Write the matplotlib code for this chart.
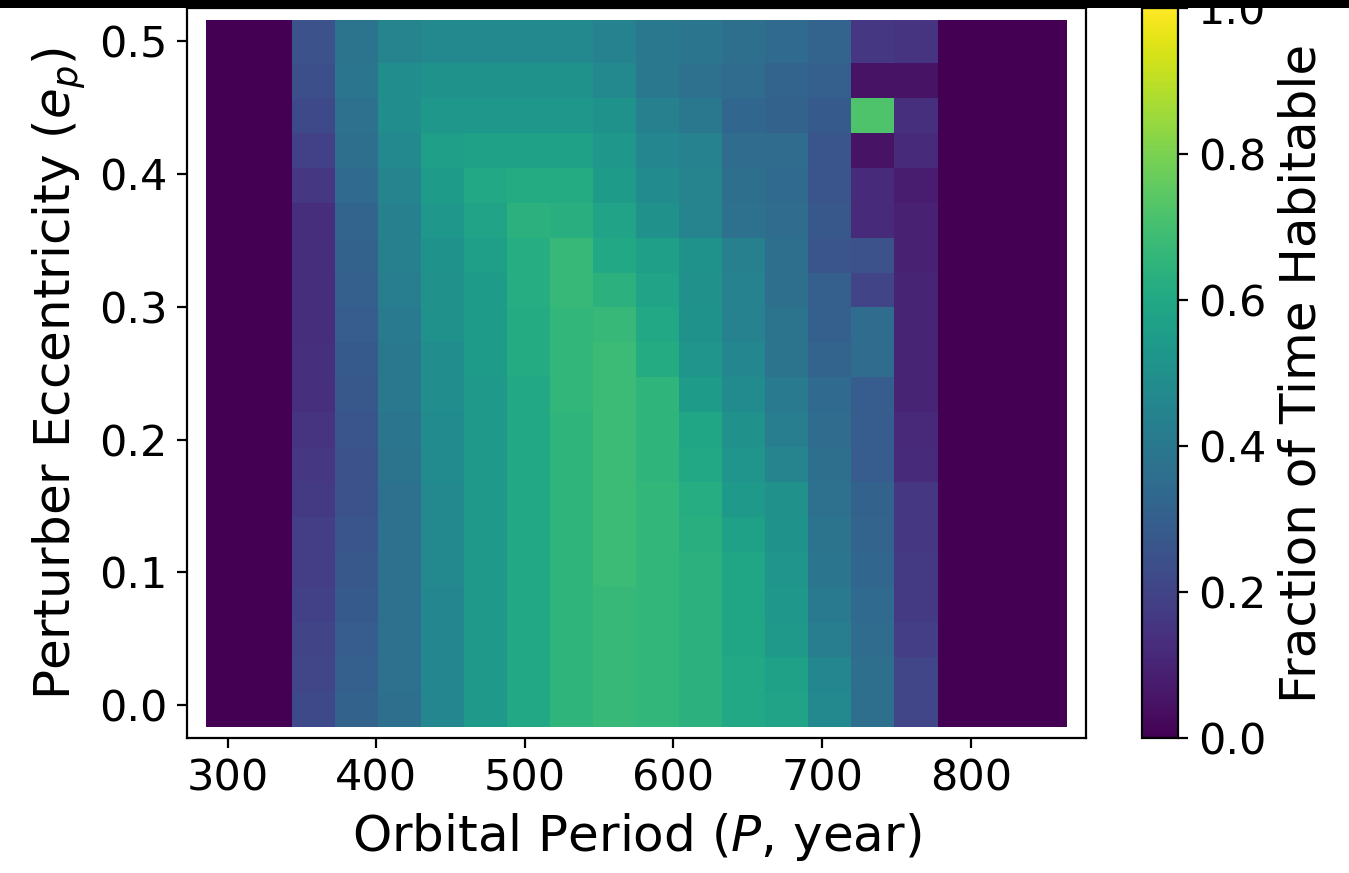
"""Habitability map: fraction of time habitable vs perturber period and eccentricity."""

import matplotlib
matplotlib.use("Agg")
import matplotlib.pyplot as plt
from matplotlib.patches import Rectangle
from matplotlib.ticker import MultipleLocator
import numpy as np

# grid of perturber orbits
period_yr = np.linspace(300, 850, 20)
eccentricity = np.linspace(0.0, 0.5, 20)

# fraction of time habitable, one row per eccentricity (0.0 -> 0.5), one column per period
frac_habitable = [
    [0, 0, 0.22, 0.31, 0.36, 0.46, 0.54, 0.60, 0.65, 0.67, 0.66, 0.64, 0.60, 0.58, 0.47, 0.36, 0.21, 0, 0, 0],
    [0, 0, 0.21, 0.30, 0.37, 0.46, 0.54, 0.60, 0.65, 0.67, 0.66, 0.64, 0.60, 0.57, 0.46, 0.36, 0.21, 0, 0, 0],
    [0, 0, 0.20, 0.29, 0.37, 0.46, 0.54, 0.60, 0.65, 0.67, 0.66, 0.64, 0.59, 0.54, 0.42, 0.35, 0.18, 0, 0, 0],
    [0, 0, 0.19, 0.28, 0.37, 0.46, 0.54, 0.60, 0.65, 0.67, 0.66, 0.64, 0.59, 0.53, 0.41, 0.34, 0.17, 0, 0, 0],
    [0, 0, 0.18, 0.27, 0.37, 0.47, 0.54, 0.60, 0.65, 0.68, 0.66, 0.64, 0.59, 0.52, 0.39, 0.33, 0.17, 0, 0, 0],
    [0, 0, 0.18, 0.26, 0.37, 0.47, 0.54, 0.60, 0.65, 0.68, 0.66, 0.63, 0.57, 0.51, 0.38, 0.32, 0.16, 0, 0, 0],
    [0, 0, 0.17, 0.25, 0.37, 0.47, 0.54, 0.60, 0.65, 0.68, 0.66, 0.62, 0.54, 0.50, 0.37, 0.31, 0.16, 0, 0, 0],
    [0, 0, 0.16, 0.25, 0.38, 0.48, 0.54, 0.60, 0.65, 0.68, 0.65, 0.60, 0.52, 0.45, 0.36, 0.29, 0.12, 0, 0, 0],
    [0, 0, 0.15, 0.26, 0.39, 0.48, 0.54, 0.60, 0.65, 0.68, 0.65, 0.59, 0.50, 0.42, 0.35, 0.29, 0.11, 0, 0, 0],
    [0, 0, 0.14, 0.27, 0.40, 0.49, 0.54, 0.60, 0.66, 0.68, 0.65, 0.55, 0.48, 0.41, 0.34, 0.29, 0.10, 0, 0, 0],
    [0, 0, 0.14, 0.28, 0.40, 0.49, 0.55, 0.61, 0.66, 0.68, 0.61, 0.52, 0.46, 0.38, 0.32, 0.35, 0.10, 0, 0, 0],
    [0, 0, 0.13, 0.29, 0.41, 0.50, 0.55, 0.61, 0.66, 0.67, 0.60, 0.51, 0.44, 0.38, 0.30, 0.35, 0.10, 0, 0, 0],
    [0, 0, 0.13, 0.30, 0.42, 0.50, 0.55, 0.62, 0.67, 0.64, 0.58, 0.50, 0.44, 0.36, 0.30, 0.20, 0.10, 0, 0, 0],
    [0, 0, 0.13, 0.31, 0.43, 0.51, 0.56, 0.62, 0.67, 0.60, 0.56, 0.51, 0.43, 0.36, 0.26, 0.25, 0.09, 0, 0, 0],
    [0, 0, 0.13, 0.32, 0.43, 0.53, 0.58, 0.64, 0.63, 0.58, 0.50, 0.45, 0.37, 0.35, 0.27, 0.12, 0.09, 0, 0, 0],
    [0, 0, 0.16, 0.34, 0.45, 0.55, 0.60, 0.61, 0.61, 0.55, 0.48, 0.45, 0.36, 0.34, 0.26, 0.12, 0.08, 0, 0, 0],
    [0, 0, 0.19, 0.36, 0.47, 0.56, 0.57, 0.57, 0.57, 0.53, 0.46, 0.44, 0.35, 0.35, 0.26, 0.05, 0.12, 0, 0, 0],
    [0, 0, 0.22, 0.37, 0.49, 0.53, 0.53, 0.53, 0.53, 0.51, 0.43, 0.40, 0.33, 0.31, 0.28, 0.72, 0.14, 0, 0, 0],
    [0, 0, 0.24, 0.39, 0.49, 0.51, 0.51, 0.51, 0.51, 0.47, 0.40, 0.37, 0.35, 0.32, 0.30, 0.05, 0.05, 0, 0, 0],
    [0, 0, 0.25, 0.38, 0.45, 0.47, 0.47, 0.47, 0.47, 0.44, 0.40, 0.39, 0.36, 0.34, 0.32, 0.16, 0.15, 0, 0, 0],
]

PP, EE = np.meshgrid(period_yr, eccentricity)
ZZ = np.array(frac_habitable, dtype=float)

fig = plt.figure(figsize=(6.745, 4.365), dpi=200)
ax = fig.add_axes([0.1384, 0.1543, 0.6666, 0.8362])
cax = fig.add_axes([0.8463, 0.1543, 0.0271, 0.8362])

# square markers, one per simulation; rows drawn bottom-up so each overlaps the one below
sc = ax.scatter(PP.ravel(), EE.ravel(), c=ZZ.ravel(), marker="s", s=240,
                cmap="viridis", vmin=0.0, vmax=1.0, linewidths=0)

ax.set_xlabel("Orbital Period ($P$, year)", fontsize=18)
ax.set_ylabel("Perturber Eccentricity ($e_p$)", fontsize=18)
ax.xaxis.set_major_locator(MultipleLocator(100))
ax.yaxis.set_major_locator(MultipleLocator(0.1))
ax.tick_params(labelsize=15.5)

cbar = fig.colorbar(sc, cax=cax)
cbar.set_label("Fraction of Time Habitable", fontsize=18)
cbar.ax.tick_params(labelsize=15.5)

# dark strip along the top edge
fig.add_artist(Rectangle((0, 1 - 0.0086), 1, 0.0086, transform=fig.transFigure,
                         facecolor="black", edgecolor="none", zorder=10))

fig.savefig("out.png", dpi=200)
